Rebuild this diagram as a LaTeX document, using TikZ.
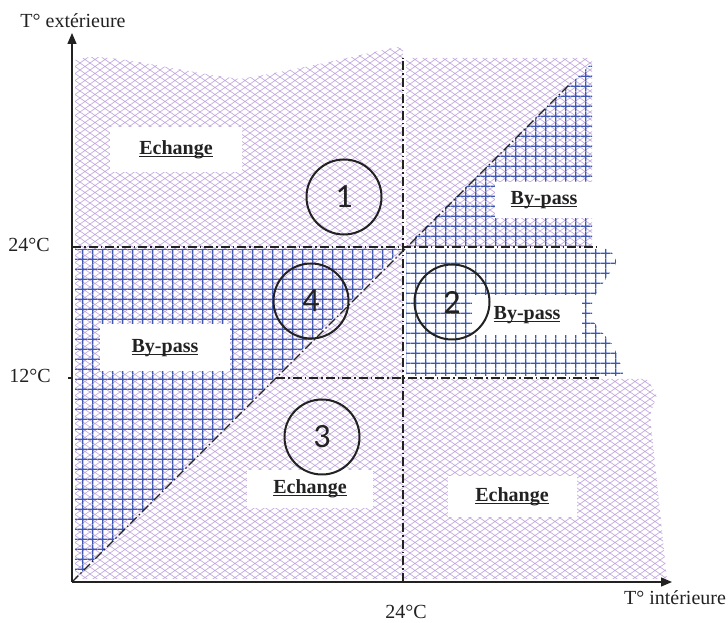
\documentclass[tikz,border=0pt]{standalone}
\usepackage{fontspec}
\setmainfont{Liberation Serif}
\newfontfamily\numfont{Carlito}
\usepackage{xcolor}
\usepackage{tikz}
\usetikzlibrary{patterns}
\usetikzlibrary{arrows.meta}
\usetikzlibrary{backgrounds}
\pgfdeclarelayer{edgelayer}
\pgfdeclarelayer{nodelayer}
\pgfsetlayers{background,edgelayer,nodelayer,main}
\definecolor{lilac}{RGB}{196,172,224}
\definecolor{gridblue}{RGB}{60,88,178}
\definecolor{ink}{RGB}{34,34,34}
\pgfdeclarepatternformonly{scales}{\pgfqpoint{-1pt}{-1pt}}{\pgfqpoint{11pt}{8pt}}{\pgfqpoint{10pt}{7pt}}{
	\pgfsetlinewidth{0.7pt}
	\pgfpathmoveto{\pgfqpoint{0pt}{0pt}}
	\pgfpathcurveto{\pgfqpoint{2.5pt}{0pt}}{\pgfqpoint{2.5pt}{3.5pt}}{\pgfqpoint{5pt}{3.5pt}}
	\pgfpathcurveto{\pgfqpoint{7.5pt}{3.5pt}}{\pgfqpoint{7.5pt}{7pt}}{\pgfqpoint{10pt}{7pt}}
	\pgfpathmoveto{\pgfqpoint{0pt}{7pt}}
	\pgfpathcurveto{\pgfqpoint{2.5pt}{7pt}}{\pgfqpoint{2.5pt}{3.5pt}}{\pgfqpoint{5pt}{3.5pt}}
	\pgfpathcurveto{\pgfqpoint{7.5pt}{3.5pt}}{\pgfqpoint{7.5pt}{0pt}}{\pgfqpoint{10pt}{0pt}}
	\pgfusepath{stroke}
}
\pgfdeclarepatternformonly{bluegrid}{\pgfqpoint{0pt}{0pt}}{\pgfqpoint{9.8pt}{9.8pt}}{\pgfqpoint{9.8pt}{9.8pt}}{
	\pgfsetlinewidth{1.3pt}
	\pgfpathmoveto{\pgfqpoint{4.9pt}{0pt}}\pgfpathlineto{\pgfqpoint{4.9pt}{9.8pt}}
	\pgfpathmoveto{\pgfqpoint{0pt}{4.9pt}}\pgfpathlineto{\pgfqpoint{9.8pt}{4.9pt}}
	\pgfusepath{stroke}
}
\newcommand{\zoneul}[1]{\setbox0\hbox{#1}\rlap{\rule[-2.6pt]{\wd0}{1.4pt}}\box0}
\tikzstyle{none}=[inner sep=0mm]
\tikzstyle{echange}=[pattern=scales, pattern color=lilac]
\tikzstyle{bypass}=[pattern=bluegrid, pattern color=gridblue]
\tikzstyle{axis}=[line width=1.4pt, draw=ink, -{Triangle[length=11pt,width=9pt]}]
\tikzstyle{limit}=[line width=1.1pt, draw=ink, dash pattern=on 9pt off 3pt on 1.5pt off 3pt]
\tikzstyle{zone label}=[fill=white, inner sep=0pt, font=\fontsize{20}{24}\selectfont\bfseries, text=ink]
\tikzstyle{zone number}=[draw=ink, shape=circle, line width=2pt, minimum size=75pt, inner sep=0pt, font=\numfont\fontsize{34}{40}\selectfont, text=ink]
\tikzstyle{tick label}=[inner sep=0pt, text=ink]

\begin{document}
\begin{tikzpicture}[x=10pt, y=10pt, font={\fontsize{20}{24}\selectfont}]
	\useasboundingbox (-7.2, -4.1) rectangle (65.6, 58.2);
	\begin{pgfonlayer}{background}
		\fill [style=echange] (0.3, 33.5) -- (0.3, 52.2) .. controls (3, 53.2) and (9, 51.3) .. (16.8, 50.3) .. controls (24, 51.5) and (29, 52.8) .. (32.6, 53.5) -- (33.1, 53.2) -- (33.1, 33.5) -- cycle;
		\fill [style=echange, rounded corners=3pt] (33.4, 33.5) -- (33.4, 52.4) -- (52, 52.4) -- (52, 33.5) -- cycle;
		\fill [style=echange] (0.3, 20.3) rectangle (33.1, 33.5);
		\fill [style=echange, rounded corners=2pt] (0.3, 0.3) -- (59.5, 0.3) -- (57.8, 16.7) -- (58.5, 18.7) -- (57.5, 20.3) -- (0.3, 20.3) -- cycle;
		\fill [style=bypass] (0.3, 0.3) -- (0.3, 33.3) -- (33.0, 33.3) -- cycle;
		\fill [style=bypass] (33.4, 33.6) -- (52, 51.9) -- (52, 33.6) -- cycle;
		\fill [style=bypass, rounded corners=3pt] (33.4, 20.6) -- (33.4, 33.3) -- (53.8, 33.3) -- (54.5, 32.0) -- (53.3, 30.2) -- (52, 28.2) -- (52, 26.2) -- (52.8, 25.2) -- (54.1, 23.7) -- (55.1, 21.2) -- (55.1, 20.6) -- cycle;
	\end{pgfonlayer}
	\begin{pgfonlayer}{nodelayer}
		\node [style=none] (o) at (0, 0) {};
		\node [style=none] (ytip) at (0, 54.9) {};
		\node [style=none] (xtip) at (60, 0) {};
		\node [style=none] (v24b) at (33.1, 0) {};
		\node [style=none] (v24t) at (33.1, 52.4) {};
		\node [style=none] (h24l) at (0, 33.5) {};
		\node [style=none] (h24r) at (52.8, 33.5) {};
		\node [style=none] (h12l) at (20.4, 20.4) {};
		\node [style=none] (h12r) at (52.8, 20.4) {};
		\node [style=none] (t12) at (-0.4, 20.4) {};
		\node [style=none] (a12) at (0, 20.4) {};
		\node [style=none] (dtop) at (49.9, 49.9) {};
		\node [style=tick label] (ylab) at (0.1, 56.1) {T° extérieure};
		\node [style=tick label] (xlab) at (60.3, -1.6) {T° intérieure};
		\node [style=tick label] (x24) at (33.4, -3.0) {24°C};
		\node [style=tick label] (y24) at (-4.3, 33.7) {24°C};
		\node [style=tick label] (y12) at (-4.2, 20.6) {12°C};
		\node [style=zone label, minimum width=132pt, minimum height=45pt] (echtl) at (10.4, 43.2) {\zoneul{Echange}};
		\node [style=zone label, minimum width=98pt, minimum height=36pt] (bpur) at (47.2, 38.2) {\zoneul{By-pass}};
		\node [style=zone label, minimum width=110pt, minimum height=40pt] (bpmr) at (45.5, 26.7) {\zoneul{By-pass}};
		\node [style=zone label, minimum width=130pt, minimum height=47pt] (bpl) at (9.3, 23.4) {\zoneul{By-pass}};
		\node [style=zone label, minimum width=126pt, minimum height=38pt] (echm) at (23.8, 9.3) {\zoneul{Echange}};
		\node [style=zone label, minimum width=129pt, minimum height=41pt] (echbr) at (44.0, 8.5) {\zoneul{Echange}};
		\node [style=zone number] (z1) at (27.2, 38.5) {1};
		\node [style=zone number] (z4) at (23.9, 28.1) {4};
		\node [style=zone number] (z2) at (38.0, 28.0) {2};
		\node [style=zone number] (z3) at (25.0, 14.5) {3};
	\end{pgfonlayer}
	\begin{pgfonlayer}{edgelayer}
		\draw [style=limit] (o.center) to (dtop.center);
		\draw [style=limit] (v24b.center) to (v24t.center);
		\draw [style=limit] (h24l.center) to (h24r.center);
		\draw [style=limit] (h12l.center) to (h12r.center);
		\draw [line width=1.1pt, draw=ink] (t12.center) to (a12.center);
		\draw [style=axis] (o.center) to (ytip.center);
		\draw [style=axis] (o.center) to (xtip.center);
	\end{pgfonlayer}
\end{tikzpicture}
\end{document}
